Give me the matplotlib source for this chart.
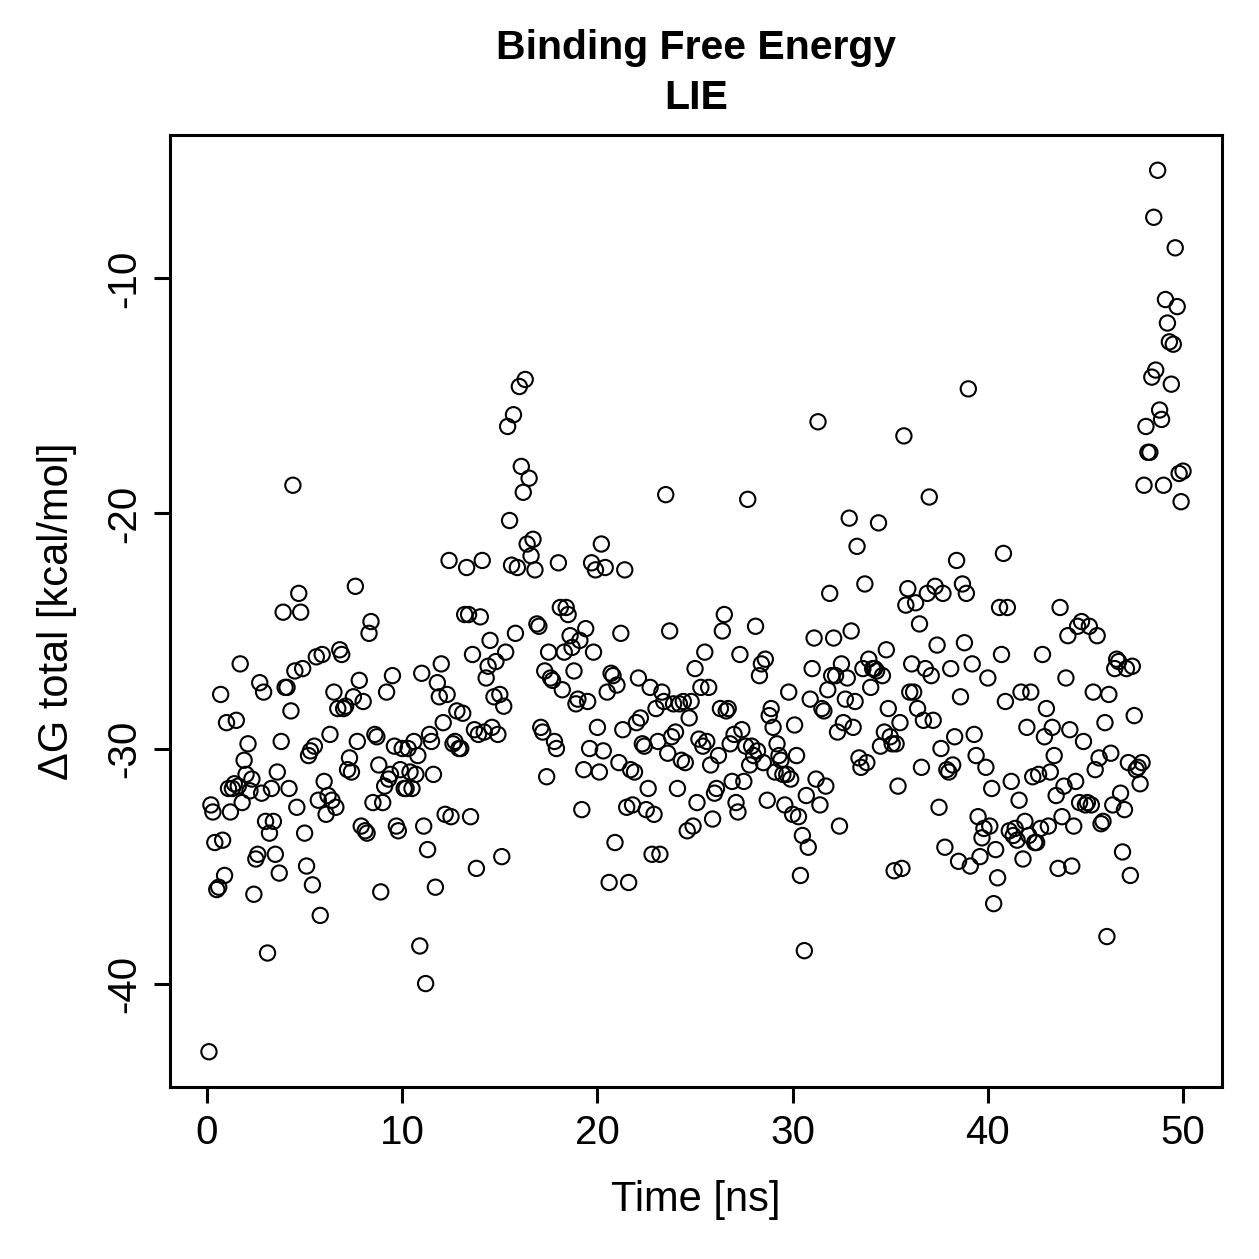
import numpy as np
import matplotlib
matplotlib.use("Agg")
import matplotlib.pyplot as plt

# Time axis: 500 frames, 0.1 ns apart
time_ns = np.round(np.arange(1, 501) * 0.1, 1)

dg_00_05 = [-42.9, -32.4, -32.7, -34.0, -36.0, -35.9, -27.7, -33.9, -35.4, -28.9,
            -31.7, -32.7, -31.7, -31.5, -28.8, -31.6, -26.4, -32.3, -30.5, -31.1,
            -29.8, -31.8, -31.3, -36.2, -34.7, -34.5, -27.2, -31.9, -27.6, -33.1,
            -38.7, -33.6, -31.7, -33.1, -34.5, -31.0, -35.3, -29.7, -24.2, -27.4,
            -27.4, -31.7, -28.4, -18.8, -26.7, -32.5, -23.4, -24.2, -26.6, -33.6]
dg_05_10 = [-35.0, -30.3, -30.1, -35.8, -29.9, -26.1, -32.2, -37.1, -26.0, -31.4,
            -32.8, -32.0, -29.4, -32.2, -27.6, -32.5, -28.3, -25.8, -26.0, -28.3,
            -28.2, -30.9, -30.4, -31.0, -27.8, -23.1, -29.7, -27.1, -33.3, -28.0,
            -33.5, -33.6, -25.1, -24.6, -32.3, -29.4, -29.5, -30.7, -36.1, -32.3,
            -31.6, -27.6, -31.3, -31.1, -26.9, -29.9, -33.3, -33.5, -30.9, -30.0]
dg_10_15 = [-31.7, -31.7, -30.0, -31.0, -31.7, -29.7, -31.1, -30.3, -38.4, -26.8,
            -33.3, -40.0, -34.3, -29.4, -29.7, -31.1, -35.9, -27.2, -27.8, -26.4,
            -28.9, -32.8, -27.7, -22.0, -32.9, -29.8, -29.7, -28.4, -30.0, -30.0,
            -28.5, -24.3, -22.3, -24.3, -32.9, -26.0, -29.2, -35.1, -29.4, -24.4,
            -22.0, -29.3, -27.0, -26.5, -25.4, -29.1, -27.8, -26.3, -29.4, -27.7]
dg_15_20 = [-34.6, -28.2, -25.9, -16.3, -20.3, -22.2, -15.8, -25.1, -22.3, -14.6,
            -18.0, -19.1, -14.3, -21.3, -18.5, -21.8, -21.1, -22.4, -24.7, -24.8,
            -29.1, -29.3, -26.7, -31.2, -25.9, -27.0, -27.1, -29.7, -30.0, -22.1,
            -24.0, -27.5, -25.9, -24.0, -24.3, -25.2, -25.7, -26.7, -28.1, -27.9,
            -25.4, -32.6, -30.9, -24.9, -28.0, -30.0, -22.1, -25.9, -22.4, -29.1]
dg_20_25 = [-31.0, -21.3, -30.1, -22.3, -27.6, -35.7, -26.8, -26.9, -34.0, -27.3,
            -30.6, -25.1, -29.2, -22.4, -32.5, -35.7, -30.9, -32.4, -31.0, -28.9,
            -27.0, -28.7, -29.8, -29.9, -32.6, -31.7, -27.4, -34.5, -32.8, -28.3,
            -29.7, -34.5, -27.6, -28.0, -19.2, -30.2, -25.0, -29.5, -28.1, -29.3,
            -31.7, -28.1, -30.5, -28.0, -30.6, -33.5, -28.7, -28.0, -33.3, -26.6]
dg_25_30 = [-32.3, -29.6, -27.4, -29.9, -25.9, -29.7, -27.4, -30.7, -33.0, -31.9,
            -31.7, -30.3, -28.3, -25.0, -24.3, -28.4, -28.3, -29.8, -31.4, -29.4,
            -32.3, -32.7, -26.0, -29.2, -31.4, -29.9, -19.4, -30.7, -29.9, -30.3,
            -24.8, -30.1, -26.9, -26.4, -30.6, -26.2, -32.2, -28.6, -28.3, -29.1,
            -31.0, -29.8, -30.3, -30.5, -31.1, -32.4, -31.1, -27.6, -31.3, -32.8]
dg_30_35 = [-29.0, -30.3, -32.9, -35.4, -33.7, -38.6, -32.0, -34.2, -27.9, -26.6,
            -25.3, -31.3, -16.1, -32.4, -28.3, -28.4, -31.6, -27.5, -23.4, -26.9,
            -25.3, -26.9, -29.3, -33.3, -26.4, -28.9, -27.9, -27.0, -20.2, -25.0,
            -29.1, -28.0, -21.4, -30.4, -30.8, -26.6, -23.0, -30.6, -26.2, -27.4,
            -26.6, -26.6, -26.7, -20.4, -29.9, -26.9, -29.3, -25.8, -28.3, -29.5]
dg_35_40 = [-29.8, -35.2, -29.8, -31.6, -28.9, -35.1, -16.7, -23.9, -23.2, -27.6,
            -26.4, -27.6, -23.8, -28.3, -24.7, -30.8, -28.8, -26.6, -23.4, -19.3,
            -26.9, -28.8, -23.1, -25.6, -32.5, -30.0, -23.4, -34.2, -30.9, -31.0,
            -26.6, -30.7, -29.5, -22.0, -34.8, -27.8, -23.0, -25.5, -23.4, -14.7,
            -35.0, -26.4, -29.4, -30.3, -32.9, -34.6, -33.8, -33.4, -30.8, -27.0]
dg_40_45 = [-33.3, -31.7, -36.6, -34.3, -35.5, -24.0, -26.0, -21.7, -28.0, -24.0,
            -33.5, -31.4, -33.7, -33.4, -33.9, -32.2, -27.6, -34.7, -33.1, -29.1,
            -33.7, -27.6, -31.2, -34.0, -34.0, -31.1, -33.4, -26.0, -29.5, -28.3,
            -33.3, -31.0, -29.1, -30.3, -32.0, -35.1, -24.0, -32.9, -31.6, -27.0,
            -25.2, -29.2, -35.0, -33.3, -31.4, -24.8, -32.3, -24.6, -29.7, -32.4]
dg_45_50 = [-32.3, -24.8, -32.4, -27.6, -30.9, -25.2, -30.4, -33.2, -33.1, -28.9,
            -38.0, -27.7, -30.2, -32.4, -26.6, -26.2, -26.3, -31.9, -34.4, -32.6,
            -26.6, -30.6, -35.4, -26.5, -28.6, -30.9, -30.8, -31.5, -30.6, -18.8,
            -16.3, -17.4, -17.4, -14.2, -7.4, -13.9, -5.4, -15.6, -16.0, -18.8,
            -10.9, -11.9, -12.7, -14.5, -12.8, -8.7, -11.2, -18.3, -19.5, -18.2]

dg_total = np.array(dg_00_05 + dg_05_10 + dg_10_15 + dg_15_20 + dg_20_25 +
                    dg_25_30 + dg_30_35 + dg_35_40 + dg_40_45 + dg_45_50)

x_ticks = [0, 10, 20, 30, 40, 50]
y_ticks = [-40, -30, -20, -10]

plt.rcParams['font.family'] = ['Liberation Sans', 'DejaVu Sans']

fig = plt.figure(figsize=(12.59, 12.59), dpi=100)
ax = fig.add_axes([170/1259, 1 - 1087/1259, (1222-170)/1259, (1087-135)/1259])

ax.scatter(time_ns, dg_total, s=11**2, facecolors='none', edgecolors='black',
           linewidths=1.5)

def padded(lo, hi):
    r = hi - lo
    return lo - 0.04 * r, hi + 0.04 * r

ax.set_xlim(*padded(time_ns.min(), time_ns.max()))
ax.set_ylim(*padded(dg_total.min(), dg_total.max()))

ax.set_xticks(x_ticks)
ax.set_yticks(y_ticks)
ax.set_xticklabels([str(t) for t in x_ticks])
ax.set_yticklabels([str(t) for t in y_ticks], rotation=90, va='center')
ax.tick_params(axis='both', direction='out', length=11.5, width=2.2,
               labelsize=29, pad=8, colors='black')

for s in ax.spines.values():
    s.set_linewidth(2.2)

ax.set_xlabel('Time [ns]', fontsize=30, labelpad=20)
ax.set_ylabel('ΔG total [kcal/mol]', fontsize=30, labelpad=20)
ax.set_title('Binding Free Energy\nLIE', fontsize=29.5, fontweight='bold',
             pad=19, linespacing=1.4)

fig.savefig('out.png', dpi=100)
